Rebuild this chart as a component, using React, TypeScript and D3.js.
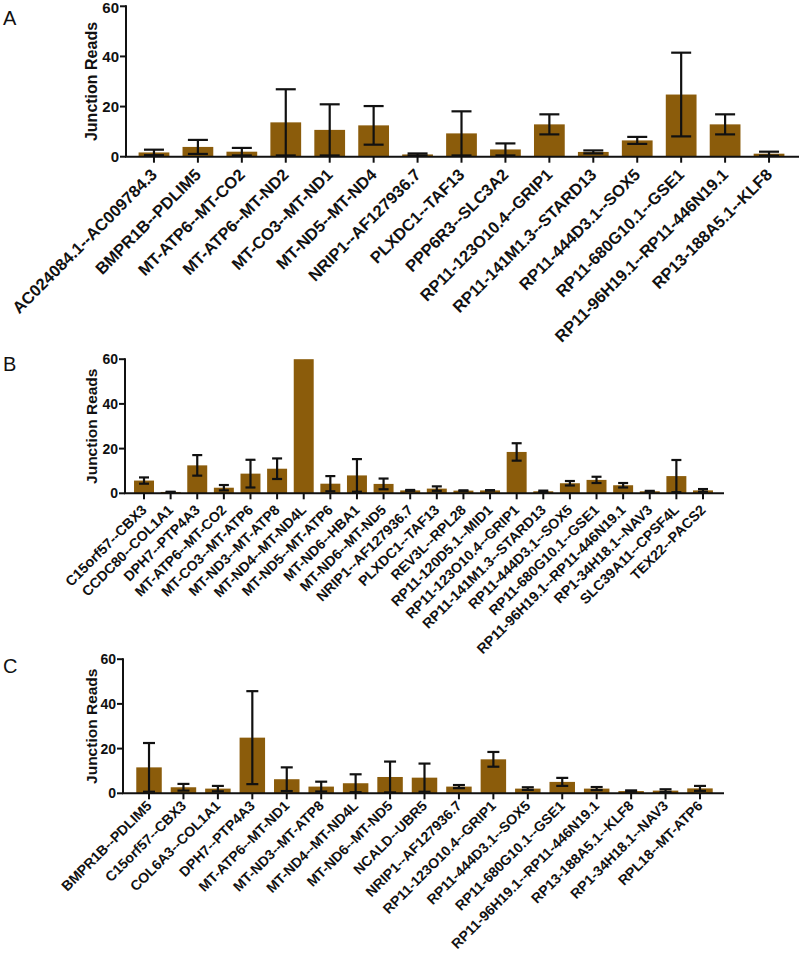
import React from "react";
import * as d3 from "d3";

const catsA = ["AC024084.1--AC009784.3","BMPR1B--PDLIM5","MT-ATP6--MT-CO2","MT-ATP6--MT-ND2","MT-CO3--MT-ND1","MT-ND5--MT-ND4","NRIP1--AF127936.7","PLXDC1--TAF13","PPP6R3--SLC3A2","RP11-123O10.4--GRIP1","RP11-141M1.3--STARD13","RP11-444D3.1--SOX5","RP11-680G10.1--GSE1","RP11-96H19.1--RP11-446N19.1","RP13-188A5.1--KLF8"];
const meanA = [1.7,3.9,2.0,13.7,10.7,12.5,0.9,9.3,2.9,12.9,1.9,6.5,24.8,12.9,1.2];
const sdA = [1.1,2.8,1.5,13.2,10.2,7.7,0.4,8.8,2.4,4.0,0.6,1.4,16.7,4.0,0.8];

const catsB = ["C15orf57--CBX3","CCDC80--COL1A1","DPH7--PTP4A3","MT-ATP6--MT-CO2","MT-CO3--MT-ATP6","MT-ND3--MT-ATP8","MT-ND4--MT-ND4L","MT-ND5--MT-ATP6","MT-ND6--HBA1","MT-ND6--MT-ND5","NRIP1--AF127936.7","PLXDC1--TAF13","REV3L--RPL28","RP11-120D5.1--MID1","RP11-123O10.4--GRIP1","RP11-141M1.3--STARD13","RP11-444D3.1--SOX5","RP11-680G10.1--GSE1","RP11-96H19.1--RP11-446N19.1","RP1-34H18.1--NAV3","SLC39A11--CPSF4L","TEX22--PACS2"];
const meanB = [5.7,0.6,12.5,2.5,8.8,11.0,60,4.3,8.0,4.2,1.3,2.1,1.2,1.3,18.5,0.9,4.5,6.0,3.6,0.9,7.7,1.3];
const sdB = [1.4,0.1,4.6,1.2,6.2,4.6,0,3.4,7.3,2.4,0.2,1.0,0.1,0.1,3.9,0.3,1.0,1.4,1.0,0.2,7.2,0.6];

const catsC = ["BMPR1B--PDLIM5","C15orf57--CBX3","COL6A3--COL1A1","DPH7--PTP4A3","MT-ATP6--MT-ND1","MT-ND3--MT-ATP8","MT-ND4--MT-ND4L","MT-ND6--MT-ND5","NCALD--UBR5","NRIP1--AF127936.7","RP11-123O10.4--GRIP1","RP11-444D3.1--SOX5","RP11-680G10.1--GSE1","RP11-96H19.1--RP11-446N19.1","RP13-188A5.1--KLF8","RP1-34H18.1--NAV3","RPL18--MT-ATP6"];
const meanC = [11.6,2.7,2.1,24.9,6.3,3.0,4.5,7.3,7.0,3.0,15.2,2.1,5.1,2.1,1.0,1.2,2.2];
const sdC = [10.9,1.5,1.2,20.8,5.3,2.2,4.0,6.9,6.3,0.7,3.3,0.6,1.8,0.7,0.3,0.6,1.1];

const yTicks = [0, 20, 40, 60];
const yTitle = "Junction Reads";

const BAR = "#8b5c0b";
const FONT = "'Liberation Sans', Arial, sans-serif";

const layouts = [
  { letter: "A", cats: catsA, mean: meanA, sd: sdA, letterY: 25, axisX: 126, y0: 156.7, yTop: 6.3, xr: [132, 791], axisEnd: 799, pad: 0.3, cap: 20, labelSize: 16.5, labelDy: 15, tickSize: 15, titleSize: 16 },
  { letter: "B", cats: catsB, mean: meanB, sd: sdB, letterY: 371, axisX: 125, y0: 493.3, yTop: 359.2, xr: [130.7, 716.3], axisEnd: 724, pad: 0.25, cap: 10, labelSize: 14.2, labelDy: 14, tickSize: 14, titleSize: 15.5 },
  { letter: "C", cats: catsC, mean: meanC, sd: sdC, letterY: 673, axisX: 123, y0: 793.3, yTop: 659.2, xr: [131.8, 717.2], axisEnd: 724, pad: 0.26, cap: 12, labelSize: 14.1, labelDy: 10, tickSize: 14, titleSize: 15.5 },
];

function Panel({ p }: { p: any }) {
  const x = d3.scaleBand<string>().domain(p.cats).range(p.xr).paddingInner(p.pad).paddingOuter(p.pad / 2);
  const y = d3.scaleLinear().domain([0, 60]).range([p.y0, p.yTop]);
  const bw = x.bandwidth();
  return (
    <g>
      <text x={3} y={p.letterY} fontFamily={FONT} fontSize={20} fill="#111">{p.letter}</text>
      <text transform={`translate(97,${(p.y0 + p.yTop) / 2}) rotate(-90)`} textAnchor="middle" fontFamily={FONT} fontWeight="bold" fontSize={p.titleSize} fill="#111">{yTitle}</text>
      {p.cats.map((c: string, i: number) => {
        const m = Math.min(p.mean[i], 60);
        const cx = (x(c) as number) + bw / 2;
        const hi = Math.min(p.mean[i] + p.sd[i], 60);
        const lo = p.mean[i] - p.sd[i];
        return (
          <g key={c}>
            <rect x={x(c)} y={y(m)} width={bw} height={p.y0 - y(m)} fill={BAR} />
            {p.sd[i] > 0 && (
              <g stroke="#111" strokeWidth={2.2}>
                <line x1={cx} x2={cx} y1={y(hi)} y2={y(Math.max(lo, 0))} />
                <line x1={cx - p.cap / 2} x2={cx + p.cap / 2} y1={y(hi)} y2={y(hi)} />
                {lo > 0.3 && <line x1={cx - p.cap / 2} x2={cx + p.cap / 2} y1={y(lo)} y2={y(lo)} />}
              </g>
            )}
          </g>
        );
      })}
      <line x1={p.axisX} x2={p.axisX} y1={p.yTop - 1} y2={p.y0} stroke="#111" strokeWidth={2} />
      <line x1={p.axisX - 1} x2={p.axisEnd} y1={p.y0} y2={p.y0} stroke="#111" strokeWidth={2} />
      {yTicks.map((t) => (
        <g key={t}>
          <line x1={p.axisX - 6} x2={p.axisX} y1={y(t)} y2={y(t)} stroke="#111" strokeWidth={2} />
          <text x={p.axisX - 7} y={Math.max(y(t), 8)} dy="0.36em" textAnchor="end" fontFamily={FONT} fontWeight="bold" fontSize={p.tickSize} fill="#111">{t}</text>
        </g>
      ))}
      {p.cats.map((c: string) => {
        const cx = (x(c) as number) + bw / 2;
        return (
          <g key={"t" + c}>
            <line x1={cx} x2={cx} y1={p.y0} y2={p.y0 + 6} stroke="#111" strokeWidth={2} />
            <text transform={`translate(${cx},${p.y0 + p.labelDy}) rotate(-45)`} dy="0.35em" textAnchor="end" fontFamily={FONT} fontWeight="bold" fontSize={p.labelSize} fill="#111">{c}</text>
          </g>
        );
      })}
    </g>
  );
}

export default function App() {
  return (
    <svg width={800} height={955} style={{ position: "absolute", left: 0, top: 0, background: "#fff" }}>
      <rect width={800} height={955} fill="#fff" />
      {layouts.map((p) => <Panel key={p.letter} p={p} />)}
    </svg>
  );
}
